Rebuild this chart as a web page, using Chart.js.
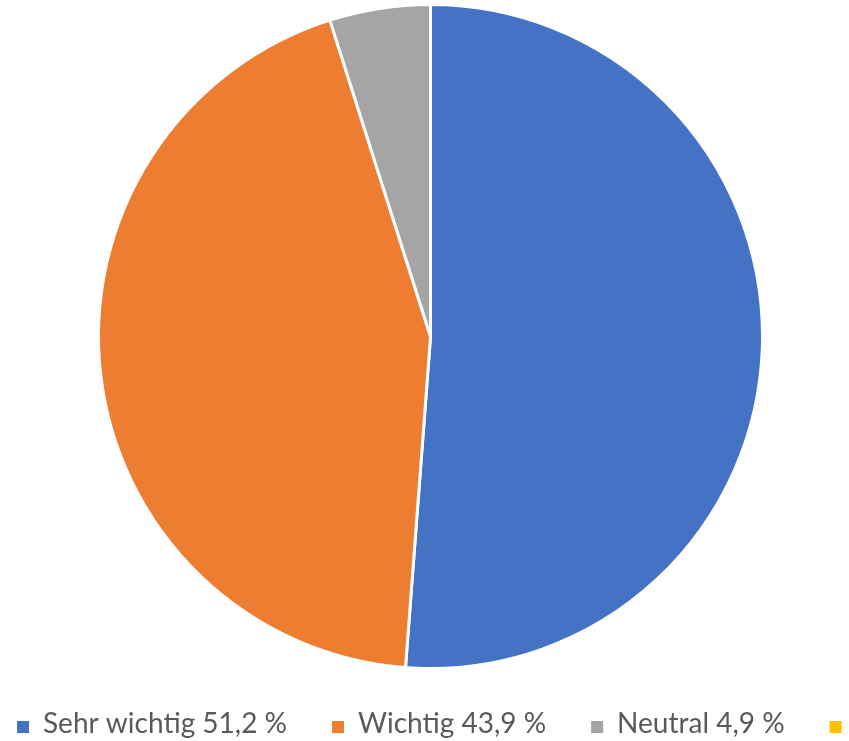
<!DOCTYPE html>
<html>
<head>
<meta charset="utf-8">
<script src="https://cdn.jsdelivr.net/npm/chart.js@4"></script>
<style>
  html,body{margin:0;padding:0;background:#fff;overflow:hidden}
  #wrap{width:849px;height:741px;position:relative}
</style>
</head>
<body>
<div id="wrap"><canvas id="chart" width="849" height="741"></canvas></div>
<script>
  const labels = ['Sehr wichtig 51,2 %','Wichtig 43,9 %','Neutral 4,9 %','Unwichtig 0 %'];
  const values = [51.2, 43.9, 4.9, 0];
  const colors = ['#4472C4','#ED7D31','#A5A5A5','#FFC000'];

  // legend drawn at the bottom, one row, runs off the right edge like the original
  const bottomLegend = {
    id:'bottomLegend',
    afterDraw(chart){
      const {ctx}=chart;
      ctx.save();
      ctx.font='28px Lato, "Open Sans", sans-serif';
      ctx.textBaseline='alphabetic';
      let x=17; const base=733;
      labels.forEach((t,i)=>{
        ctx.fillStyle=colors[i];
        ctx.fillRect(x, base-12, 12, 12);
        x+=26;
        ctx.fillStyle='#595959';
        ctx.fillText(t, x, base);
        x+=ctx.measureText(t).width+45;
      });
      ctx.restore();
    }
  };

  new Chart(document.getElementById('chart').getContext('2d'),{
    type:'pie',
    data:{ labels, datasets:[{ data:values, backgroundColor:colors, borderColor:'#fff', borderWidth:3 }] },
    options:{
      responsive:false,
      animation:false,
      layout:{ padding:{ left:97, right:85, top:3, bottom:71 } },
      plugins:{ legend:{display:false}, tooltip:{enabled:false} }
    },
    plugins:[bottomLegend]
  });
</script>
</body>
</html>
